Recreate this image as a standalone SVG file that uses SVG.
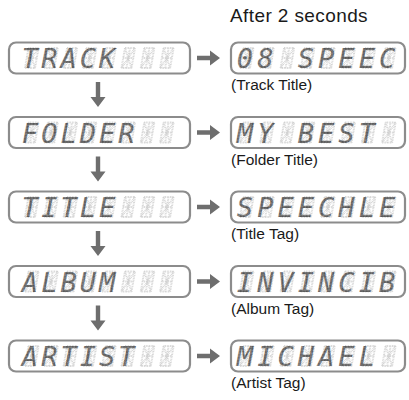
<svg xmlns="http://www.w3.org/2000/svg" xmlns:xlink="http://www.w3.org/1999/xlink" width="409" height="400" viewBox="0 0 409 400">
<style>
.box{fill:#fff;stroke:#8c8c8c;stroke-width:2.2}
.cap{font-family:"Liberation Sans",Arial,sans-serif;font-size:15.5px;fill:#1a1a1a}
.seg{fill:none;stroke:#d2d2d2;stroke-width:2;stroke-dasharray:0.8 0.8}
.lcd{font-family:"DejaVu Sans Mono",monospace;font-style:italic;font-size:27px;fill:url(#dots);stroke:none;text-anchor:middle}
.arr{fill:#6e6e6e}
</style>
<defs>
<pattern id="dots" patternUnits="userSpaceOnUse" width="1.5" height="1.5">
<rect x="0.15" y="0.15" width="1.1" height="1.1" fill="#000"/>
</pattern>
<path id="cell" class="seg" d="M0,0H10M3.5,-20H13.5M0,0L3.5,-20M10,0L13.5,-20M1.75,-10H11.75M5,0L8.5,-20M3.5,-20L10,0M13.5,-20L0,0"/>
<path id="darr" class="arr" d="M-2.2,0H2.2V15H7.5L0,25L-7.5,15H-2.2Z"/>
<path id="rarr" class="arr" d="M0,-2.2H13V-7.5L23,0L13,7.5V2.2H0Z"/>
<g id="cellsL">
<use xlink:href="#cell" x="25"/><use xlink:href="#cell" x="44.3"/><use xlink:href="#cell" x="63.6"/><use xlink:href="#cell" x="82.9"/><use xlink:href="#cell" x="102.2"/><use xlink:href="#cell" x="121.5"/><use xlink:href="#cell" x="140.8"/><use xlink:href="#cell" x="160.1"/>
</g>
<g id="cellsR">
<use xlink:href="#cell" x="240"/><use xlink:href="#cell" x="260.3"/><use xlink:href="#cell" x="280.6"/><use xlink:href="#cell" x="300.9"/><use xlink:href="#cell" x="321.2"/><use xlink:href="#cell" x="341.5"/><use xlink:href="#cell" x="361.8"/><use xlink:href="#cell" x="382.1"/>
</g>
</defs>
<text class="cap" x="230" y="22" style="font-size:19px;letter-spacing:0.4px">After 2 seconds</text>

<g id="track">
<rect class="box" x="9" y="42.5" width="181" height="31" rx="7"/>
<use xlink:href="#cellsL" y="68"/>
<text class="lcd" x="30 49.3 68.6 87.9 107.2" y="68">TRACK</text>
</g>
<g id="track-title">
<rect class="box" x="231" y="42.5" width="174" height="31" rx="7"/>
<use xlink:href="#cellsR" y="68"/>
<text class="lcd" x="245 265.3" y="68">08</text>
<text class="lcd" x="305.9 326.2 346.5 366.8 387.1" y="68">SPEEC</text>
<text class="cap" x="231" y="90">(Track Title)</text>
</g>

<g id="folder">
<rect class="box" x="9" y="117" width="181" height="31" rx="7"/>
<use xlink:href="#cellsL" y="142.5"/>
<text class="lcd" x="30 49.3 68.6 87.9 107.2 126.5" y="142.5">FOLDER</text>
</g>
<g id="folder-title">
<rect class="box" x="231" y="117" width="174" height="31" rx="7"/>
<use xlink:href="#cellsR" y="142.5"/>
<text class="lcd" x="245 265.3" y="142.5">MY</text>
<text class="lcd" x="305.9 326.2 346.5 366.8" y="142.5">BEST</text>
<text class="cap" x="231" y="164.5">(Folder Title)</text>
</g>

<g id="title">
<rect class="box" x="9" y="191.5" width="181" height="31" rx="7"/>
<use xlink:href="#cellsL" y="217"/>
<text class="lcd" x="30 49.3 68.6 87.9 107.2" y="217">TITLE</text>
</g>
<g id="title-tag">
<rect class="box" x="231" y="191.5" width="174" height="31" rx="7"/>
<use xlink:href="#cellsR" y="217"/>
<text class="lcd" x="245 265.3 285.6 305.9 326.2 346.5 366.8 387.1" y="217">SPEECHLE</text>
<text class="cap" x="231" y="239">(Title Tag)</text>
</g>

<g id="album">
<rect class="box" x="9" y="266" width="181" height="31" rx="7"/>
<use xlink:href="#cellsL" y="291.5"/>
<text class="lcd" x="30 49.3 68.6 87.9 107.2" y="291.5">ALBUM</text>
</g>
<g id="album-tag">
<rect class="box" x="231" y="266" width="174" height="31" rx="7"/>
<use xlink:href="#cellsR" y="291.5"/>
<text class="lcd" x="245 265.3 285.6 305.9 326.2 346.5 366.8 387.1" y="291.5">INVINCIB</text>
<text class="cap" x="231" y="313.5">(Album Tag)</text>
</g>

<g id="artist">
<rect class="box" x="9" y="340.5" width="181" height="31" rx="7"/>
<use xlink:href="#cellsL" y="366"/>
<text class="lcd" x="30 49.3 68.6 87.9 107.2 126.5" y="366">ARTIST</text>
</g>
<g id="artist-tag">
<rect class="box" x="231" y="340.5" width="174" height="31" rx="7"/>
<use xlink:href="#cellsR" y="366"/>
<text class="lcd" x="245 265.3 285.6 305.9 326.2 346.5 366.8" y="366">MICHAEL</text>
<text class="cap" x="231" y="388">(Artist Tag)</text>
</g>

<g id="connectors">
<use xlink:href="#rarr" x="197" y="58"/>
<use xlink:href="#rarr" x="197" y="132.5"/>
<use xlink:href="#rarr" x="197" y="207"/>
<use xlink:href="#rarr" x="197" y="281.5"/>
<use xlink:href="#rarr" x="197" y="356"/>
<use xlink:href="#darr" x="98" y="82"/>
<use xlink:href="#darr" x="98" y="156.5"/>
<use xlink:href="#darr" x="98" y="231"/>
<use xlink:href="#darr" x="98" y="305.5"/>
</g>
</svg>
